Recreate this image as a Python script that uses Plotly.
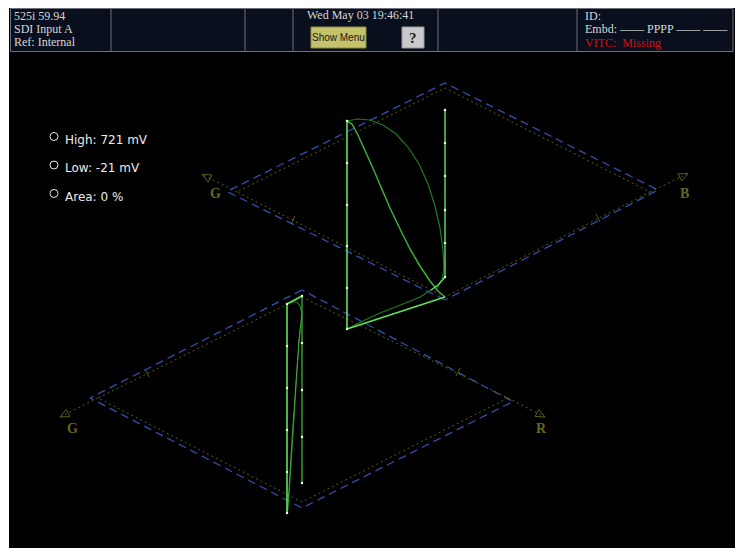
import math
import plotly.graph_objects as go

# ---------------- data (screen units, px) ----------------
header_left_lines = ["525i 59.94", "SDI Input A", "Ref: Internal"]
header_datetime = "Wed May 03 19:46:41"
header_right_lines = ["ID:", "Embd: –––– PPPP –––– ––––"]
header_status = "VITC:  Missing"
button_labels = ["Show Menu", "?"]
readout_labels = ["High: 721 mV", "Low: -21 mV", "Area: 0 %"]
upper_axis_labels = ["G", "B"]
lower_axis_labels = ["G", "R"]

# Upper diamond (G / B) – green channel trace
up_left_vertical_x = [347, 347, 347, 347, 347, 347]
up_left_vertical_y = [121, 163, 205, 246, 288, 329]
up_right_vertical_x = [445, 445, 445, 445, 445, 445]
up_right_vertical_y = [110, 143, 176, 210, 243, 277]
up_base_x = [347, 445]
up_base_y = [329, 297]
up_s_curve_x = [347, 352, 357, 364, 372, 381, 390, 400, 410, 420, 430, 438, 445]
up_s_curve_y = [121, 124, 133, 148, 166, 187, 208, 229, 249, 266, 281, 291, 297]
up_arc_x = [347, 358, 370, 383, 396, 408, 419, 428, 435, 440, 443, 444, 442, 437]
up_arc_y = [121, 119, 120, 125, 134, 147, 164, 184, 206, 228, 250, 268, 280, 288]
up_return_bright_x = [445, 438, 431]
up_return_bright_y = [277, 285, 290]
up_return_dark_x = [431, 420, 408, 395, 380, 365, 355, 347]
up_return_dark_y = [290, 297, 302, 307, 313, 320, 325, 329]

# Lower diamond (G / R) – green channel trace
lo_left_vertical_x = [287, 287, 287, 287, 287, 287]
lo_left_vertical_y = [304, 346, 388, 430, 472, 513]
lo_top_x = [287, 302]
lo_top_y = [304, 296]
lo_right_vertical_x = [302, 302, 302, 302, 302]
lo_right_vertical_y = [296, 343, 390, 437, 483]
lo_hook_x = [287, 292, 297, 300, 302]
lo_hook_y = [304, 302, 302, 306, 313]
lo_diag1_x = [287, 289, 292, 296, 299, 302]
lo_diag1_y = [513, 490, 440, 380, 340, 313]
lo_diag2_x = [288, 291, 294, 297, 300]
lo_diag2_y = [510, 470, 420, 370, 330]

# ---------------- styling / layout constants ----------------
W, H = 735, 548
BLUE = "#2f4fae"
OLIVE = "#5e5e1c"
OLIVE_TXT = "#67671f"
BRIGHT = "#5fe35a"
MID = "#3fae3a"
DARK = "#1f7a1f"
DOT = "#e8ffe0"

fig = go.Figure()

def line(x, y, color, width=1.0, dash=None):
    fig.add_trace(go.Scatter(x=x, y=y, mode="lines", hoverinfo="skip",
                             line=dict(color=color, width=width, dash=dash)))

def arrow_head(tail, tip, length=9, half=4):
    dx, dy = tip[0] - tail[0], tip[1] - tail[1]
    n = math.hypot(dx, dy)
    ux, uy_ = dx / n, dy / n
    bx, by = tip[0] - length * ux, tip[1] - length * uy_
    px, py = -uy_, ux
    xs = [tip[0], bx + half * px, bx - half * px, tip[0]]
    ys = [tip[1], by + half * py, by - half * py, tip[1]]
    line(xs, ys, OLIVE, 1)

# Graticule: blue dashed limit diamonds
ub = [(445, 300), (227, 191.5), (445, 83), (658, 190), (445, 300)]
lb = [(302, 290), (90, 398), (302, 508), (513, 401.5), (302, 290)]
for d in (ub, lb):
    line([p[0] for p in d], [p[1] for p in d], BLUE, 1.3, "8px,5px")

# Graticule: olive dotted inner diamonds + axes with arrows
uy = [(445, 297), (237, 192), (445, 88), (650, 192), (445, 297)]
ly = [(302, 297), (98, 398), (302, 502), (508, 398), (302, 297)]
for d in (uy, ly):
    line([p[0] for p in d], [p[1] for p in d], OLIVE, 1, "2px,3px")
axes_ext = [((237, 192), (202, 174.5)), ((650, 192), (688, 173.5)),
            ((98, 398), (60, 417)), ((508, 398), (545, 417))]
for tail, tip in axes_ext:
    line([tail[0], tip[0]], [tail[1], tip[1]], OLIVE, 1, "2px,3px")
    arrow_head(tail, tip)
# small ticks at 3/4 of each axis
for (cx, cy, dx, dy) in [(293, 220, 2, -4), (598, 218, -2, -4), (147, 373, 2, 4), (458, 372, -2, 4)]:
    line([cx - dx, cx + dx], [cy - dy, cy + dy], OLIVE, 1)

# ---------------- green traces ----------------
line(up_arc_x, up_arc_y, DARK, 1.2)
line(up_return_dark_x, up_return_dark_y, DARK, 1.2)
line(lo_diag2_x, lo_diag2_y, DARK, 1.0)
line(lo_hook_x, lo_hook_y, DARK, 1.2)
line(lo_diag1_x, lo_diag1_y, MID, 1.0)
line(up_s_curve_x, up_s_curve_y, MID, 1.5)
line(up_return_bright_x, up_return_bright_y, BRIGHT, 1.4)
line(up_base_x, up_base_y, BRIGHT, 1.6)
line(up_left_vertical_x, up_left_vertical_y, BRIGHT, 1.6)
line(up_right_vertical_x, up_right_vertical_y, BRIGHT, 1.4)
line(lo_left_vertical_x, lo_left_vertical_y, BRIGHT, 1.6)
line(lo_top_x, lo_top_y, BRIGHT, 1.6)
line(lo_right_vertical_x, lo_right_vertical_y, MID, 1.3)
fig.add_trace(go.Scatter(
    x=up_left_vertical_x + up_right_vertical_x + lo_left_vertical_x + lo_right_vertical_x,
    y=up_left_vertical_y + up_right_vertical_y + lo_left_vertical_y + lo_right_vertical_y,
    mode="markers", hoverinfo="skip", marker=dict(size=2.5, color=DOT)))

# ---------------- readout ----------------
ry = [140, 168, 197]
fig.add_trace(go.Scatter(x=[54, 54, 54], y=[136.5, 165, 193.5], mode="markers", hoverinfo="skip",
                         marker=dict(symbol="circle-open", size=8, color="#e6e6e6",
                                     line=dict(width=1, color="#e6e6e6"))))

ann = []
for t, y in zip(readout_labels, ry):
    ann.append(dict(x=63, y=y, text=t, xanchor="left", yanchor="middle", showarrow=False,
                    font=dict(family="DejaVu Sans", size=12, color="#ececec")))

serif = "Liberation Serif"
for t, y in zip(header_left_lines, [15.5, 28.5, 41.5]):
    ann.append(dict(x=12, y=y, text=t, xanchor="left", yanchor="middle", showarrow=False,
                    font=dict(family=serif, size=12, color="#d6d6d6")))
ann.append(dict(x=360, y=15, text=header_datetime, xanchor="center", yanchor="middle",
                showarrow=False, font=dict(family=serif, size=12, color="#d6d6d6")))
for t, y in zip(header_right_lines, [15.5, 29]):
    ann.append(dict(x=583, y=y, text=t, xanchor="left", yanchor="middle", showarrow=False,
                    font=dict(family=serif, size=12, color="#d6d6d6")))
ann.append(dict(x=583, y=42.5, text=header_status, xanchor="left", yanchor="middle", showarrow=False,
                font=dict(family=serif, size=12, color="#d01212")))
ann.append(dict(x=338.5, y=37.5, text=button_labels[0], xanchor="center", yanchor="middle",
                showarrow=False, font=dict(family="Liberation Sans", size=10, color="#181818")))
ann.append(dict(x=413, y=38, text="<b>" + button_labels[1] + "</b>", xanchor="center",
                yanchor="middle", showarrow=False, font=dict(family=serif, size=15, color="#202020")))

for t, (x, y) in zip(upper_axis_labels + lower_axis_labels,
                     [(215, 193), (684, 193), (72, 428), (541, 428)]):
    ann.append(dict(x=x, y=y, text="<b>" + t + "</b>", xanchor="center", yanchor="middle",
                    showarrow=False, font=dict(family=serif, size=14, color=OLIVE_TXT)))

# ---------------- background shapes ----------------
shapes = [
    dict(type="rect", x0=9, x1=W, y0=8, y1=H, fillcolor="#000000", line=dict(width=0), layer="below"),
    dict(type="rect", x0=10.5, x1=733, y0=8.5, y1=51.5, fillcolor="#0a0f1e",
         line=dict(width=1, color="#6c7079"), layer="below"),
]
for xd in [111, 245, 293, 438, 577]:
    shapes.append(dict(type="line", x0=xd, x1=xd, y0=9, y1=51,
                       line=dict(width=1, color="#6c7079"), layer="below"))
shapes.append(dict(type="rect", x0=311, x1=366, y0=27, y1=48, fillcolor="#c4c26a",
                   line=dict(width=1, color="#8d8b45"), layer="below"))
shapes.append(dict(type="rect", x0=402, x1=424, y0=27, y1=48, fillcolor="#c9c9c9",
                   line=dict(width=1, color="#9a9a9a"), layer="below"))

fig.update_layout(
    width=W, height=H, margin=dict(l=0, r=0, t=0, b=0),
    paper_bgcolor="#ffffff", plot_bgcolor="#ffffff", showlegend=False,
    xaxis=dict(range=[0, W], visible=False, fixedrange=True),
    yaxis=dict(range=[H, 0], visible=False, fixedrange=True),
    shapes=shapes, annotations=ann,
)

fig.write_html("out.html", config={"displayModeBar": False},
               post_script="document.body.style.margin='0px';document.body.style.overflow='hidden';")
